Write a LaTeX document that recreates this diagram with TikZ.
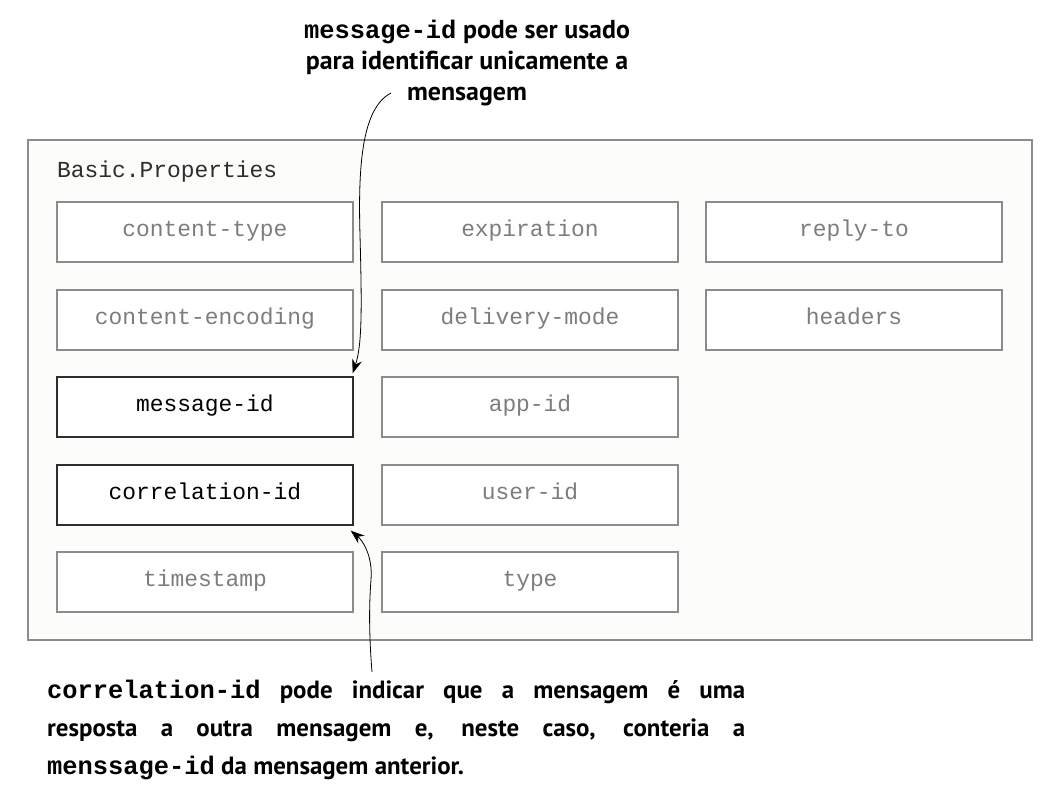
\documentclass[tikz,border=0pt]{standalone}
\usepackage{fontspec}
\setmainfont{PT Sans}
\setmonofont{Liberation Mono}
\usetikzlibrary{arrows.meta}
\definecolor{boxgray}{RGB}{140,140,140}
\definecolor{txtgray}{RGB}{125,125,125}
\definecolor{darkline}{RGB}{45,45,45}
\definecolor{panelbg}{RGB}{252,252,250}
\tikzset{
  prop/.style={draw=boxgray, line width=1.3bp, fill=white, minimum width=296bp, minimum height=60bp,
    inner sep=0pt, text height=12bp, text depth=4bp,
    font=\fontsize{23}{26}\selectfont\ttfamily, text=txtgray},
  keyprop/.style={prop, draw=darkline, text=black},
  note/.style={font=\fontsize{26}{31}\selectfont\bfseries, text=black},
  callout/.style={-{Stealth[length=14bp,width=10bp]}, line width=0.8bp, black}
}
\newcommand{\mymono}[1]{{\fontsize{25.5}{31}\selectfont\ttfamily #1}}
\newcommand{\mymonob}[1]{{\fontsize{25.5}{38}\selectfont\ttfamily #1}}
\begin{document}
\begin{tikzpicture}[x=1bp,y=-1bp]
\useasboundingbox (0,0) rectangle (1061,799);
\fill[white] (0,0) rectangle (1061,799);
\draw[draw=boxgray, line width=1.3bp, fill=panelbg] (28,140) rectangle (1032,640);
\node[anchor=west, font=\fontsize{23}{26}\selectfont\ttfamily, text=darkline, inner sep=0pt] (title) at (57,172) {Basic.Properties};

\node[prop] (ctype) at (205,232) {content-type};
\node[prop] (exp) at (530,232) {expiration};
\node[prop] (reply) at (854,232) {reply-to};
\node[prop] (cenc) at (205,320) {content-encoding};
\node[prop] (dmode) at (530,320) {delivery-mode};
\node[prop] (headers) at (854,320) {headers};
\node[keyprop] (msg) at (205,407) {message-id};
\node[prop] (app) at (530,407) {app-id};
\node[keyprop] (corr) at (205,495) {correlation-id};
\node[prop] (user) at (530,495) {user-id};
\node[prop] (ts) at (205,582) {timestamp};
\node[prop] (type) at (530,582) {type};

\node[note, align=center, inner sep=0pt] (topnote) at (467,63)
  {\mymono{message-id} pode ser usado\\para identificar unicamente a\\mensagem};

\node[note, anchor=north west, text width=698bp, align=justify, inner sep=0pt,
  font=\fontsize{25}{38}\selectfont\bfseries] (botnote) at (47,680)
  {\mymonob{correlation-id} pode indicar que a mensagem é uma\linebreak resposta a outra mensagem e, neste caso, conteria a\linebreak \mymonob{menssage-id} da mensagem anterior.};

\coordinate (topstart) at (391,93);
\coordinate (botstart) at (372,672);
\draw[callout] (topstart) .. controls (362,108) and (358,165) .. (360,235)
  .. controls (362,310) and (362,345) .. ([xshift=-1bp,yshift=3bp]msg.north east);
\draw[callout] (botstart) .. controls (369,635) and (369,605) .. (371,580)
  .. controls (373,555) and (362,540) .. ([xshift=-3bp,yshift=-5bp]corr.south east);
\end{tikzpicture}
\end{document}
